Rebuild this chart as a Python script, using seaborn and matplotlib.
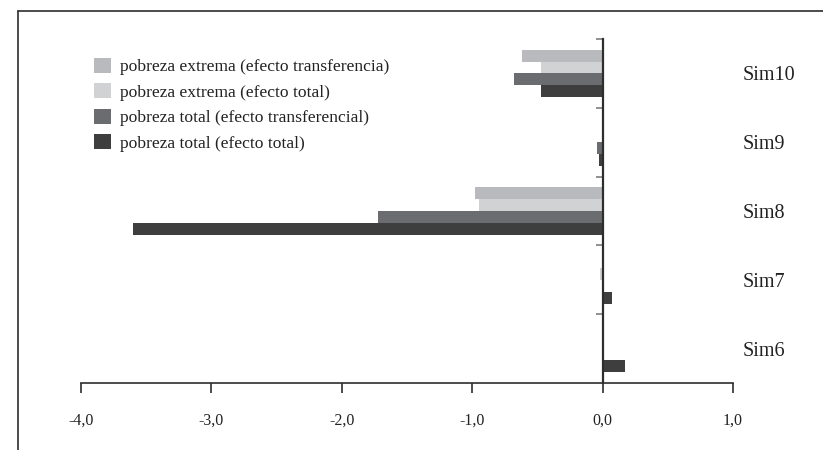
import matplotlib
matplotlib.use('Agg')
import matplotlib.pyplot as plt
from matplotlib.lines import Line2D
import pandas as pd
import seaborn as sns

sims = ['Sim10', 'Sim9', 'Sim8', 'Sim7', 'Sim6']
series = ['pobreza extrema (efecto transferencia)',
          'pobreza extrema (efecto total)',
          'pobreza total (efecto transferencial)',
          'pobreza total (efecto total)']
extrema_transf = [-0.62, 0.0, -0.98, 0.0, 0.0]
extrema_total = [-0.47, 0.0, -0.95, -0.02, 0.01]
total_transf = [-0.68, -0.04, -1.72, 0.0, 0.0]
total_total = [-0.47, -0.03, -3.60, 0.07, 0.17]
colors = ['#b9babe', '#d1d2d4', '#6b6c70', '#3e3e3e']
xticks = [-4, -3, -2, -1, 0, 1]
xlabels = ['-4,0', '-3,0', '-2,0', '-1,0', '0,0', '1,0']

rows = []
for name, vals in zip(series, [extrema_transf, extrema_total, total_transf, total_total]):
    for s, v in zip(sims, vals):
        rows.append({'sim': s, 'serie': name, 'valor': v})
df = pd.DataFrame(rows)

sns.set_style('white')
plt.rcParams['font.family'] = ['Liberation Serif', 'DejaVu Serif']

fig = plt.figure(figsize=(8.23, 4.5), dpi=100)
ax = fig.add_axes([81/823, 1 - 383/450, 652/823, 344/450])

sns.barplot(data=df, y='sim', x='valor', hue='serie', order=sims, hue_order=series,
            palette=colors, orient='h', width=0.69, saturation=1, linewidth=0, ax=ax)

ax.set_xlim(-4, 1)
ax.set_ylim(4.5, -0.5)
ax.set_xlabel('')
ax.set_ylabel('')

for side in ['top', 'right']:
    ax.spines[side].set_visible(False)
ax.spines['left'].set_position(('data', 0))
ax.spines['left'].set_color('#2e2e2e')
ax.spines['left'].set_linewidth(1.6)
ax.spines['bottom'].set_color('#2e2e2e')
ax.spines['bottom'].set_linewidth(1.2)

ax.set_xticks(xticks, xlabels)
ax.tick_params(axis='x', direction='out', length=7.5, width=1.2, color='#2e2e2e',
               pad=14, labelsize=11.5, labelcolor='#222222', bottom=True)

ax.set_yticks(range(len(sims)), sims)
ax.tick_params(axis='y', which='major', left=False, right=False, labelleft=False,
               labelright=True, labelsize=14.5, labelcolor='#222222', pad=3.5)
ax.set_yticks([-0.5, 0.5, 1.5, 2.5, 3.5], minor=True)
ax.tick_params(axis='y', which='minor', left=True, direction='out', length=5,
               width=1.3, color='#888888')

leg = ax.legend(loc='upper left', bbox_to_anchor=(0.02, 0.945), frameon=False,
                handlelength=0.95, handleheight=0.95, handletextpad=0.55,
                labelspacing=0.45, borderpad=0, borderaxespad=0,
                prop={'size': 12.6})
for t in leg.get_texts():
    t.set_color('#222222')

# page frame lines (top and left)
fig.add_artist(Line2D([18/823, 18/823], [0, 1 - 11/450], color='#2e2e2e', lw=1.2,
                      transform=fig.transFigure))
fig.add_artist(Line2D([18/823, 1], [1 - 11/450, 1 - 11/450], color='#2e2e2e', lw=1.2,
                      transform=fig.transFigure))

fig.savefig('out.png', dpi=100)
